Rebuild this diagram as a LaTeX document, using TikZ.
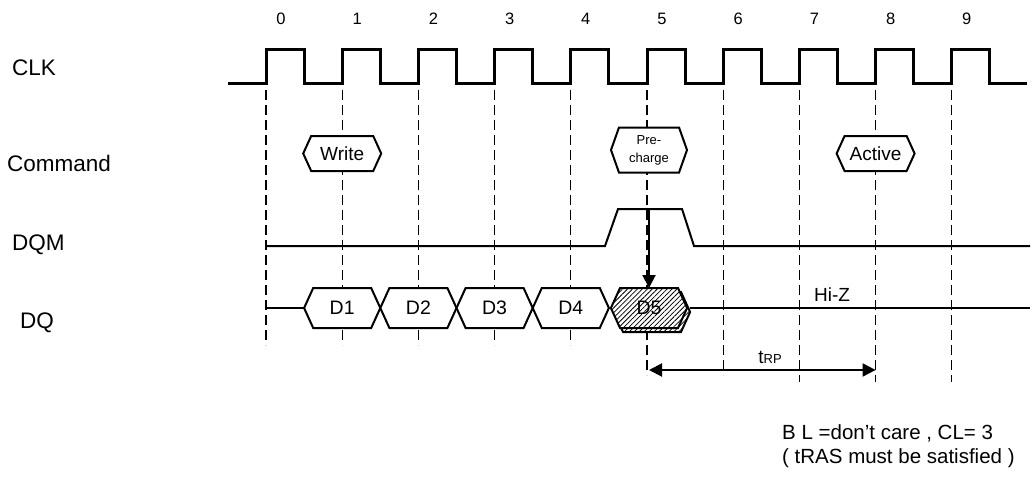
\documentclass[tikz,border=0pt]{standalone}
\usepackage{fontspec}
\setmainfont{Liberation Sans}
\usetikzlibrary{shapes.symbols,arrows.meta,patterns.meta}
\tikzstyle{clkwave} = [draw, line width=3pt, line join=miter]
\tikzstyle{wave} = [draw, line width=2pt]
\tikzstyle{tick} = [draw, line width=1.3pt, dash pattern=on 10pt off 5pt]
\tikzstyle{hexbox} = [signal, signal to=east and west, draw, fill=white, line width=2pt,
    inner sep=0pt, outer sep=0pt]
\tikzstyle{cmd} = [hexbox, minimum width=78pt, minimum height=35pt, signal pointer angle=131,
    font=\fontsize{19}{19}\selectfont]
\tikzstyle{data} = [hexbox, minimum width=76.2pt, minimum height=40pt, signal pointer angle=131,
    font=\fontsize{19.5}{19.5}\selectfont]
\tikzstyle{hatched} = [preaction={fill=white}, pattern={Lines[angle=45,distance=3.5pt,line width=0.8pt]}]
\tikzstyle{rowlabel} = [anchor=west, inner sep=0pt, font=\fontsize{22.5}{24}\selectfont]
\tikzstyle{note} = [anchor=west, inner sep=0pt, font=\fontsize{20.5}{22}\selectfont]
\tikzstyle{tip} = [-{Triangle[length=13pt,width=13pt]}]

\begin{document}
\begin{tikzpicture}[x=1pt,y=-1pt]
  \useasboundingbox (0,0) rectangle (1032,476);
  % clock edges
  \foreach \k/\yend in {0/345,1/345,2/345,3/345,4/345,5/375,6/375,7/382,8/382,9/382}
    \draw[tick] ({266+76.2*\k},90) -- ({266+76.2*\k},\yend);
  \foreach \k in {0,...,9}
    \node[font=\fontsize{16.5}{16.5}\selectfont] (n\k) at ({281+76.2*\k},19) {\k};
  \node[rowlabel] (clk) at (12,68) {CLK};
  \node[rowlabel] (command) at (7,163) {Command};
  \node[rowlabel] (dqm) at (12,245) {DQM};
  \node[rowlabel] (dq) at (20,323) {DQ};
  \draw[clkwave] (228,84) \foreach \k in {0,...,9} {
      -- ({266+76.2*\k},84) -- ({266+76.2*\k},50) -- ({304.1+76.2*\k},50) -- ({304.1+76.2*\k},84) }
    -- (1027,84);
  % commands
  \node[cmd] (write) at (342.2,153.5) {Write};
  \node[cmd, minimum width=76pt, minimum height=45pt, signal pointer angle=141,
    align=center, font=\fontsize{13}{18}\selectfont] (pre) at (649,150) {Pre-\\charge};
  \node[cmd] (active) at (875.6,153.5) {Active};
  % DQM
  \draw[wave] (266,246) -- (605,246) -- (618,209) -- (682,209) -- (694,246) -- (1030,246);
  \coordinate (dqmhi) at (649,209);
  % DQ
  \node[data] (d1) at (342.2,308) {D1};
  \node[data] (d2) at (418.4,308) {D2};
  \node[data] (d3) at (494.6,308) {D3};
  \node[data] (d4) at (570.8,308) {D4};
  \node[data, hatched] (d5s) at (652,312) {};
  \node[data, hatched] (d5) at (649,308) {D5};
  \draw[wave] (266,308) -- (d1.west);
  \draw[wave] (d5s.east |- d5.east) -- (1030,308);
  \draw[wave, tip] (dqmhi) -- (d5.north);
  \node[font=\fontsize{19}{19}\selectfont] (hiz) at (832,295) {Hi-Z};
  % tRP
  \coordinate (trpa) at (649,370);
  \coordinate (trpb) at (875.6,370);
  \draw[wave, {Triangle[length=13pt,width=13pt]}-{Triangle[length=13pt,width=13pt]}] (trpa) -- (trpb);
  \node (trp) at (770,357) {\fontsize{19}{19}\selectfont t\fontsize{13}{13}\selectfont RP};
  \node[note] (bl) at (782,433) {B L =don't care , CL= 3};
  \node[note] (tras) at (782,458) {( tRAS must be satisfied )};
\end{tikzpicture}
\end{document}
